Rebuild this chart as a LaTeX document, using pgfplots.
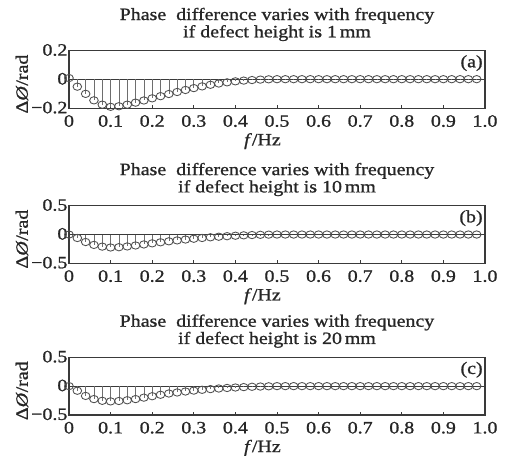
\documentclass[border=0pt]{standalone}
\usepackage{fontspec}
\setmainfont{Liberation Serif}[FakeStretch=1.15, FakeBold=1.1]
\usepackage{pgfplots}
\usepackage{pgfplotstable}
\pgfplotsset{compat=1.18}

\definecolor{axisgray}{HTML}{3A3A3A}
\definecolor{stemgray}{HTML}{6E6E6E}
\definecolor{markgray}{HTML}{505050}
\definecolor{textgray}{HTML}{262626}

% phase difference (rad) against frequency (Hz), defect height 1 mm
\pgfplotstableread{
f     dphi
0.00  0.010
0.02 -0.050
0.04 -0.100
0.06 -0.145
0.08 -0.175
0.10 -0.190
0.12 -0.186
0.14 -0.175
0.16 -0.161
0.18 -0.146
0.20 -0.131
0.22 -0.116
0.24 -0.101
0.26 -0.087
0.28 -0.073
0.30 -0.060
0.32 -0.048
0.34 -0.037
0.36 -0.028
0.38 -0.020
0.40 -0.013
0.42 -0.008
0.44 -0.004
0.46 -0.001
0.48  0.001
0.50  0.002
0.52  0.002
0.54  0.002
0.56  0.002
0.58  0.002
0.60  0.002
0.62  0.002
0.64  0.002
0.66  0.002
0.68  0.002
0.70  0.002
0.72  0.002
0.74  0.002
0.76  0.002
0.78  0.002
0.80  0.002
0.82  0.002
0.84  0.002
0.86  0.002
0.88  0.002
0.90  0.002
0.92  0.002
0.94  0.002
0.96  0.002
0.98  0.002
}\heightone

% defect height 10 mm
\pgfplotstableread{
f     dphi
0.00  0.000
0.02 -0.060
0.04 -0.130
0.06 -0.180
0.08 -0.210
0.10 -0.225
0.12 -0.220
0.14 -0.207
0.16 -0.190
0.18 -0.172
0.20 -0.153
0.22 -0.135
0.24 -0.118
0.26 -0.102
0.28 -0.087
0.30 -0.073
0.32 -0.060
0.34 -0.048
0.36 -0.038
0.38 -0.029
0.40 -0.021
0.42 -0.014
0.44 -0.009
0.46 -0.005
0.48 -0.002
0.50  0.000
0.52  0.000
0.54  0.000
0.56  0.000
0.58  0.000
0.60  0.000
0.62  0.000
0.64  0.000
0.66  0.000
0.68  0.000
0.70  0.000
0.72  0.000
0.74  0.000
0.76  0.000
0.78  0.000
0.80  0.000
0.82  0.000
0.84  0.000
0.86  0.000
0.88  0.000
0.90  0.000
0.92  0.000
0.94  0.000
0.96  0.000
0.98  0.000
}\heightten

% defect height 20 mm
\pgfplotstableread{
f     dphi
0.00  0.000
0.02 -0.080
0.04 -0.170
0.06 -0.225
0.08 -0.255
0.10 -0.265
0.12 -0.258
0.14 -0.245
0.16 -0.225
0.18 -0.200
0.20 -0.175
0.22 -0.150
0.24 -0.128
0.26 -0.110
0.28 -0.093
0.30 -0.078
0.32 -0.064
0.34 -0.052
0.36 -0.041
0.38 -0.032
0.40 -0.024
0.42 -0.017
0.44 -0.011
0.46 -0.007
0.48 -0.003
0.50  0.000
0.52  0.000
0.54  0.000
0.56  0.000
0.58  0.000
0.60  0.000
0.62  0.000
0.64  0.000
0.66  0.000
0.68  0.000
0.70  0.000
0.72  0.000
0.74  0.000
0.76  0.000
0.78  0.000
0.80  0.000
0.82  0.000
0.84  0.000
0.86  0.000
0.88  0.000
0.90  0.000
0.92  0.000
0.94  0.000
0.96  0.000
0.98  0.000
}\heighttwenty

\pgfplotsset{
  panel/.style={
    scale only axis,
    width=312pt, height=43.2pt,
    anchor=north west,
    xmin=0, xmax=1,
    xtick={0,0.1,0.2,0.3,0.4,0.5,0.6,0.7,0.8,0.9,1},
    xticklabels={0,0.1,0.2,0.3,0.4,0.5,0.6,0.7,0.8,0.9,1.0},
    xtick pos=left, ytick pos=left,
    tick align=inside,
    major tick length=2.5pt,
    axis line style={axisgray, line width=1pt},
    every tick/.style={axisgray, line width=0.6pt},
    /pgf/number format/assume math mode=true,
    font=\fontsize{13}{14}\selectfont,
    every tick label/.append style={text=textgray, font=\fontsize{13}{14}\selectfont},
    xticklabel style={anchor=north, inner sep=0pt, yshift=-5pt},
    yticklabel style={anchor=east, inner sep=0pt, xshift=-1pt, yshift=0.5pt},
    xlabel={\textit{f}/Hz},
    xlabel style={at={(axis description cs:0.465,0)}, anchor=north,
      inner sep=0pt, yshift=-18.5pt, text=textgray},
    ylabel={Δ\textit{Ø}/rad},
    ylabel style={at={(axis description cs:-0.113,0.42)}, anchor=center,
      inner sep=0pt, text=textgray},
    title style={at={(axis description cs:0.5,1)}, anchor=south,
      inner sep=0pt, yshift=1pt, align=center, text=textgray,
      font=\fontsize{13}{11}\selectfont},
  },
  stems/.style={ycomb, stemgray, line width=0.5pt, no marks},
  circles/.style={only marks, mark=o, mark size=2.75pt,
    mark options={xscale=1.18, markgray, line width=0.65pt}},
  baseline/.style={axisgray, line width=0.6pt, no marks},
}

\begin{document}
\begin{tikzpicture}
\useasboundingbox (0,0) rectangle (384pt,-344.25pt);

\begin{axis}[panel, at={(51.75pt,-38pt)},
  ymin=-0.2, ymax=0.2,
  ytick={-0.2,0,0.2}, yticklabels={−0.2,0,0.2},
  title={Phase~ difference varies with frequency\\if defect height is 1\,mm}]
  \addplot[baseline] coordinates {(0,0) (1,0)};
  \addplot[stems] table[x=f, y=dphi] {\heightone};
  \addplot[circles] table[x=f, y=dphi] {\heightone};
  \node[anchor=north east, inner sep=0pt, text=textgray] at (rel axis cs:0.995,0.925) {(a)};
\end{axis}

\begin{axis}[panel, at={(51.75pt,-154.3pt)},
  ymin=-0.5, ymax=0.5,
  ytick={-0.5,0,0.5}, yticklabels={−0.5,0,0.5},
  title={Phase~ difference varies with frequency\\if defect height is 10\,mm}]
  \addplot[baseline] coordinates {(0,0) (1,0)};
  \addplot[stems] table[x=f, y=dphi] {\heightten};
  \addplot[circles] table[x=f, y=dphi] {\heightten};
  \node[anchor=north east, inner sep=0pt, text=textgray] at (rel axis cs:0.995,0.925) {(b)};
\end{axis}

\begin{axis}[panel, at={(51.75pt,-268pt)},
  ymin=-0.5, ymax=0.5,
  ytick={-0.5,0,0.5}, yticklabels={−0.5,0,0.5},
  title={Phase~ difference varies with frequency\\if defect height is 20\,mm}]
  \addplot[baseline] coordinates {(0,0) (1,0)};
  \addplot[stems] table[x=f, y=dphi] {\heighttwenty};
  \addplot[circles] table[x=f, y=dphi] {\heighttwenty};
  \node[anchor=north east, inner sep=0pt, text=textgray] at (rel axis cs:0.995,0.925) {(c)};
\end{axis}
\end{tikzpicture}
\end{document}
